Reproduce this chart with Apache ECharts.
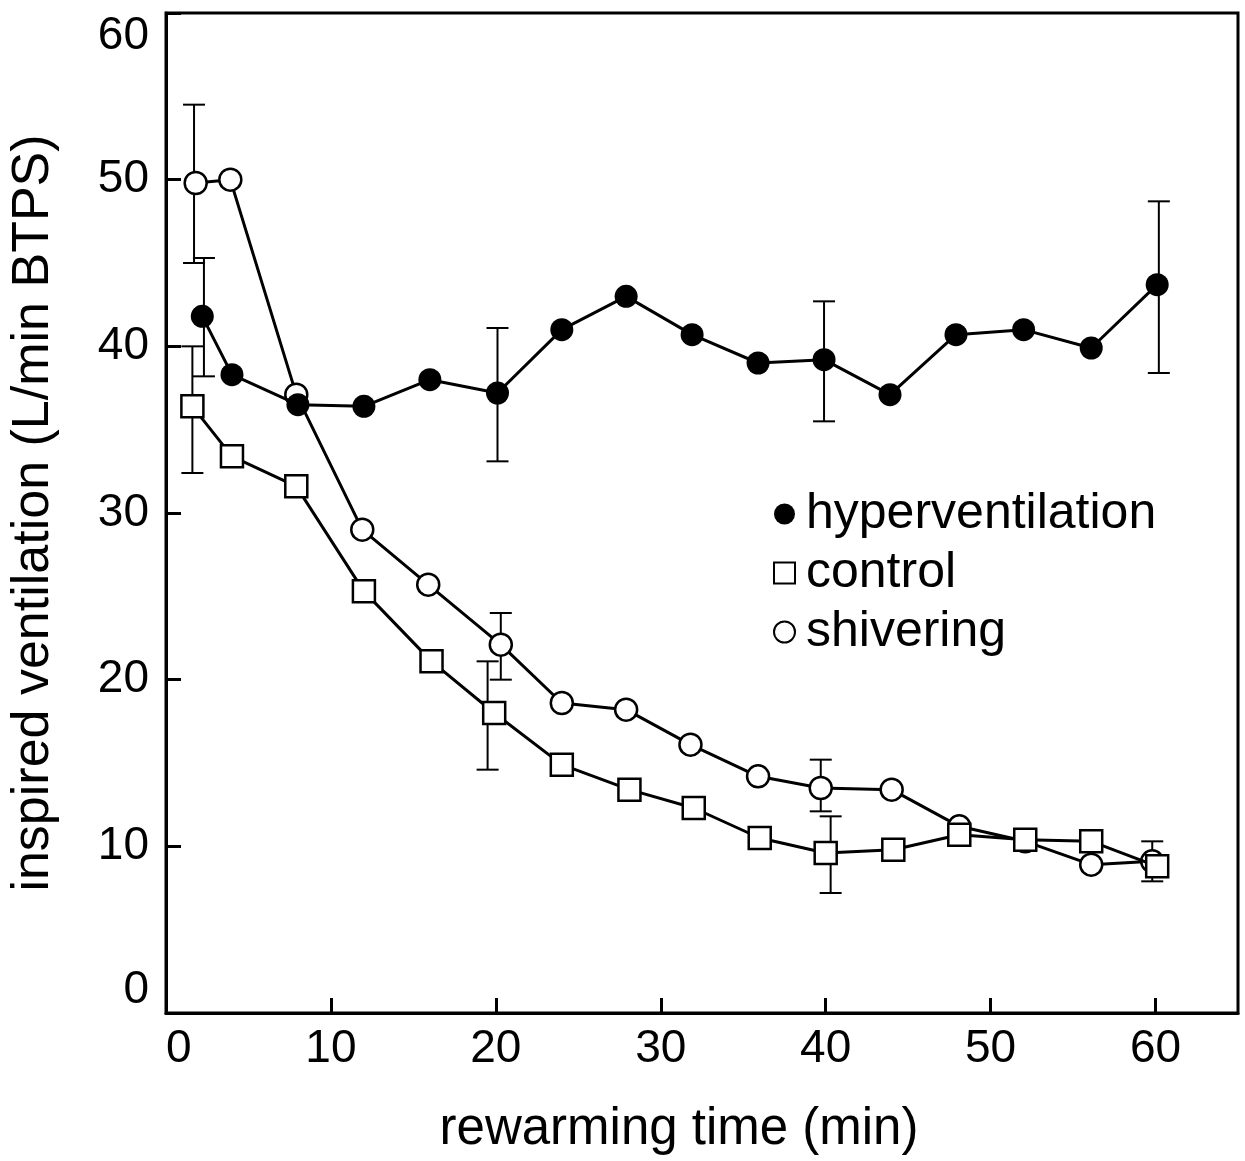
<!DOCTYPE html>
<html>
<head>
<meta charset="utf-8">
<script src="https://cdn.jsdelivr.net/npm/echarts@6/dist/echarts.min.js"></script>
<style>
  html, body { margin: 0; padding: 0; background: #fff; }
  #chart { width: 1245px; height: 1161px; }
</style>
</head>
<body>
<div id="chart"></div>
<script>
// rewarming time (min) and ventilation (L/min BTPS)
var hyperTime = [2.2, 4, 8, 12, 16, 20.1, 24, 27.9, 31.9, 35.9, 39.9, 43.9, 47.9, 52, 56.1, 60.1];
var hyperVent = [41.8, 38.3, 36.5, 36.4, 38.0, 37.2, 41.0, 43.0, 40.7, 39.0, 39.2, 37.1, 40.7, 41.0, 39.9, 43.7];
var controlTime = [1.6, 4, 7.9, 12, 16.1, 19.9, 24, 28.1, 32, 36, 40, 44.1, 48.1, 52.1, 56.1, 60.1];
var controlVent = [36.4, 33.4, 31.6, 25.3, 21.1, 18.0, 14.9, 13.4, 12.3, 10.5, 9.6, 9.8, 10.7, 10.4, 10.3, 8.8];
var shiverTime = [1.8, 3.9, 7.9, 11.9, 15.9, 20.3, 24, 27.9, 31.8, 35.9, 39.7, 44, 48.1, 52.1, 56.1, 59.8];
var shiverVent = [49.8, 50.0, 37.1, 29.0, 25.7, 22.1, 18.6, 18.2, 16.1, 14.2, 13.5, 13.4, 11.2, 10.3, 8.9, 9.1];

// error bars: time, low, high
var hyperErrTime = [2.3, 20.1, 39.9, 60.2];
var hyperErrLow = [38.2, 33.1, 35.5, 38.4];
var hyperErrHigh = [45.3, 41.1, 42.7, 48.7];
var controlErrTime = [1.6, 19.5, 40.3];
var controlErrLow = [32.4, 14.6, 7.2];
var controlErrHigh = [40.0, 21.1, 11.8];
var shiverErrTime = [1.7, 20.3, 39.7, 59.8];
var shiverErrLow = [45.0, 20.0, 12.1, 7.9];
var shiverErrHigh = [54.5, 24.0, 15.2, 10.3];

var seriesNames = ['hyperventilation', 'control', 'shivering'];
var xTicks = [0, 10, 20, 30, 40, 50, 60];
var yTicks = [0, 10, 20, 30, 40, 50, 60];

var font = '"Liberation Sans", Arial, Helvetica, sans-serif';

function zip(xs, ys) {
  return xs.map(function (x, i) { return [x, ys[i]]; });
}

function errData(ts, lo, hi) {
  return ts.map(function (t, i) { return [t, lo[i], hi[i]]; });
}

function renderErr(params, api) {
  var top = api.coord([api.value(0), api.value(2)]);
  var bot = api.coord([api.value(0), api.value(1)]);
  var w = 11;
  var st = { stroke: '#000', lineWidth: 2 };
  return {
    type: 'group',
    children: [
      { type: 'line', shape: { x1: top[0], y1: top[1], x2: bot[0], y2: bot[1] }, style: st },
      { type: 'line', shape: { x1: top[0] - w, y1: top[1], x2: top[0] + w, y2: top[1] }, style: st },
      { type: 'line', shape: { x1: bot[0] - w, y1: bot[1], x2: bot[0] + w, y2: bot[1] }, style: st }
    ]
  };
}

var chart = echarts.init(document.getElementById('chart'));

var option = {
  backgroundColor: '#fff',
  animation: false,
  textStyle: { fontFamily: font, color: '#000' },
  grid: {
    left: 165, top: 13, width: 1073, height: 1000,
    show: true, borderColor: '#000', borderWidth: 3
  },
  legend: {
    orient: 'vertical',
    left: 768,
    top: 484,
    itemWidth: 21,
    itemHeight: 21,
    itemGap: 9,
    textStyle: { fontSize: 50, color: '#000', fontFamily: font, padding: [0, 0, 0, 6] },
    data: [
      { name: seriesNames[0], icon: 'circle', itemStyle: { color: '#000', borderWidth: 0 } },
      { name: seriesNames[1], icon: 'rect', itemStyle: { color: '#fff', borderColor: '#000', borderWidth: 2 } },
      { name: seriesNames[2], icon: 'circle', itemStyle: { color: '#fff', borderColor: '#000', borderWidth: 2 } }
    ]
  },
  xAxis: {
    type: 'value',
    min: 0, max: 65, interval: 10,
    name: 'rewarming time (min)',
    nameLocation: 'middle',
    nameGap: 91,
    nameTextStyle: { fontSize: 51, color: '#000', fontFamily: font, padding: [0, 46, 0, 0] },
    axisLine: { lineStyle: { color: '#000', width: 3 } },
    axisTick: { inside: true, length: 15, lineStyle: { color: '#000', width: 3 } },
    axisLabel: {
      fontSize: 46, color: '#000', margin: 13, fontFamily: font,
      showMaxLabel: false, alignMinLabel: 'left',
      formatter: function (v) { return xTicks.indexOf(v) >= 0 ? String(v) : ''; }
    },
    splitLine: { show: false }
  },
  yAxis: {
    type: 'value',
    min: 0, max: 60, interval: 10,
    name: 'inspired ventilation (L/min BTPS)',
    nameLocation: 'middle',
    nameGap: 106,
    nameTextStyle: { fontSize: 52, color: '#000', fontFamily: font },
    axisLine: { lineStyle: { color: '#000', width: 3 } },
    axisTick: { inside: true, length: 15, lineStyle: { color: '#000', width: 3 } },
    axisLabel: {
      fontSize: 46, color: '#000', margin: 17, fontFamily: font,
      verticalAlignMaxLabel: 'top', verticalAlignMinLabel: 'bottom',
      formatter: function (v) { return yTicks.indexOf(v) >= 0 ? String(v) : ''; }
    },
    splitLine: { show: false }
  },
  series: [
    {
      type: 'custom', name: 'shivering err', renderItem: renderErr, z: 1,
      data: errData(shiverErrTime, shiverErrLow, shiverErrHigh), silent: true
    },
    {
      type: 'custom', name: 'control err', renderItem: renderErr, z: 1,
      data: errData(controlErrTime, controlErrLow, controlErrHigh), silent: true
    },
    {
      type: 'custom', name: 'hyper err', renderItem: renderErr, z: 1,
      data: errData(hyperErrTime, hyperErrLow, hyperErrHigh), silent: true
    },
    {
      type: 'line', name: seriesNames[2], z: 2,
      data: zip(shiverTime, shiverVent),
      symbol: 'circle', symbolSize: 22,
      lineStyle: { color: '#000', width: 3 },
      itemStyle: { color: '#fff', borderColor: '#000', borderWidth: 2.5 }
    },
    {
      type: 'line', name: seriesNames[1], z: 3,
      data: zip(controlTime, controlVent),
      symbol: 'rect', symbolSize: 22,
      lineStyle: { color: '#000', width: 3 },
      itemStyle: { color: '#fff', borderColor: '#000', borderWidth: 2.5 }
    },
    {
      type: 'line', name: seriesNames[0], z: 4,
      data: zip(hyperTime, hyperVent),
      symbol: 'circle', symbolSize: 23,
      lineStyle: { color: '#000', width: 3 },
      itemStyle: { color: '#000', borderWidth: 0 }
    }
  ]
};

chart.setOption(option);
</script>
</body>
</html>
